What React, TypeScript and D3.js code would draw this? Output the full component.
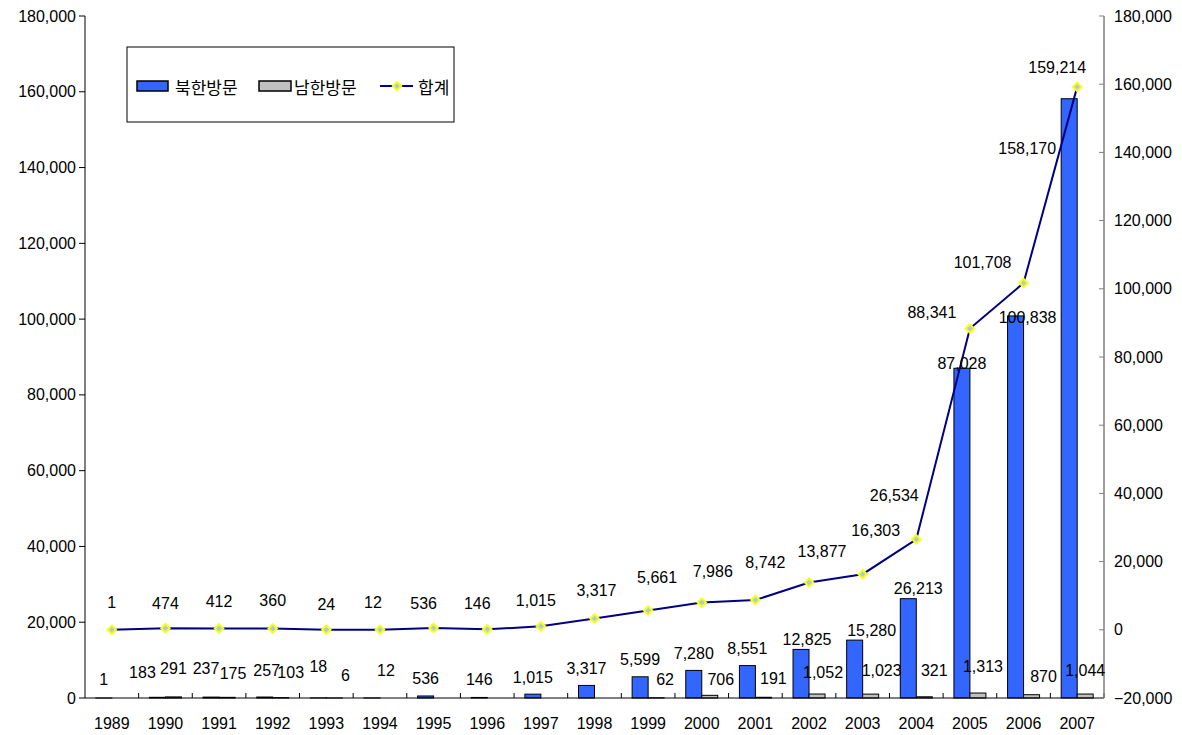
import React from "react";
import * as d3 from "d3";

const years = ["1989","1990","1991","1992","1993","1994","1995","1996","1997","1998","1999","2000","2001","2002","2003","2004","2005","2006","2007"];
const northVisits = [1,183,237,257,18,12,536,146,1015,3317,5599,7280,8551,12825,15280,26213,87028,100838,158170];
const southVisits = [0,291,175,103,6,0,0,0,0,0,62,706,191,1052,1023,321,1313,870,1044];
const totals = [1,474,412,360,24,12,536,146,1015,3317,5661,7986,8742,13877,16303,26534,88341,101708,159214];
const leftTicks = [0,20000,40000,60000,80000,100000,120000,140000,160000,180000];
const rightTicks = [-20000,0,20000,40000,60000,80000,100000,120000,140000,160000,180000];
const seriesNames = ["북한방문","남한방문","합계"];

// label nudges (dx, dy) relative to the mark anchor
const northNudge: [number, number][] = [[0,-18],[-15,-25],[-5,-29],[2,-27],[0,-31],[14,-27],[0,-17],[0,-18],[0,-17],[0,-17],[0,-17],[0,-17],[0,-17],[6,-10],[17,-10],[10,-10],[0,-5],[12,2],[-42,50]];
const southNudge: [number, number][] = [[0,-18],[0,-28],[6,-24],[10,-25],[11,-22],[0,-18],[0,-18],[0,-18],[0,-18],[0,-18],[9,-18],[11,-16],[10,-19],[6,-22],[11,-24],[10,-26],[5,-27],[12,-18],[0,-24]];
const totalNudge: [number, number][] = [[0,-27],[0,-25],[0,-27],[0,-28],[0,-25],[-7,-27],[-10,-24],[-10,-26],[-5,-26],[2,-28],[9,-33],[11,-31],[10,-37],[13,-31],[13,-44],[-22,-44],[-38,-16],[-41,-20],[-20,-19]];

const fmt = d3.format(",");
const FONT = "'Liberation Sans', Arial, sans-serif";
const KFONT = "'Noto Sans CJK KR', 'Liberation Sans', sans-serif";

export default function App() {
  const W = 1182, H = 735;
  const left = 85, right = 1104, top = 16, bottom = 698;
  const x = d3.scaleBand<string>().domain(years).range([left, right]).paddingInner(0).paddingOuter(0);
  const bw = x.bandwidth();
  const sub = d3.scaleBand<string>().domain(["n","s"]).range([bw/2 - 16, bw/2 + 16]).padding(0);
  const yL = d3.scaleLinear().domain([0,180000]).range([bottom, top]);
  const yR = d3.scaleLinear().domain([-20000,180000]).range([bottom, top]);
  const cx = (i: number) => (x(years[i]) as number) + bw / 2;
  const line = d3.line<number>().x((_, i) => cx(i)).y(d => yR(d));

  const diamond = (px: number, py: number, r = 4.2) => `M${px},${py - r}L${px + r},${py}L${px},${py + r}L${px - r},${py}Z`;

  return (
    <svg width={W} height={H} style={{ position: "absolute", left: 0, top: 0, background: "#fff" }} fontFamily={FONT}>
      <rect x={0} y={0} width={W} height={H} fill="#fff" />
      {/* bars */}
      {years.map((yr, i) => {
        const bx = x(yr) as number;
        const nx = bx + (sub("n") as number);
        const sx = bx + (sub("s") as number);
        return (
          <g key={yr}>
            <rect x={nx} y={yL(northVisits[i])} width={sub.bandwidth()} height={bottom - yL(northVisits[i])} fill="#3366FF" stroke="#000" strokeWidth={1} />
            <rect x={sx} y={yL(southVisits[i])} width={sub.bandwidth()} height={bottom - yL(southVisits[i])} fill="#C0C0C0" stroke="#000" strokeWidth={1} />
          </g>
        );
      })}
      {/* x axis */}
      <line x1={left} x2={right} y1={bottom} y2={bottom} stroke="#000" strokeWidth={1} />
      {years.map((yr) => (
        <line key={"xt" + yr} x1={(x(yr) as number) + bw} x2={(x(yr) as number) + bw} y1={bottom} y2={bottom - 5} stroke="#000" />
      ))}
      {years.map((yr, i) => (
        <text key={"xl" + yr} x={cx(i)} y={723} textAnchor="middle" dominantBaseline="central" fontSize={16}>{yr}</text>
      ))}
      {/* left axis */}
      <line x1={left} x2={left} y1={top} y2={bottom} stroke="#000" />
      {leftTicks.map(t => (
        <g key={"lt" + t}>
          <line x1={left - 6} x2={left} y1={yL(t)} y2={yL(t)} stroke="#000" />
          <text x={left - 9} y={yL(t)} textAnchor="end" dominantBaseline="central" fontSize={16}>{fmt(t)}</text>
        </g>
      ))}
      {/* right axis */}
      <line x1={right} x2={right} y1={top} y2={bottom} stroke="#808080" strokeWidth={1.5} />
      {rightTicks.map(t => (
        <g key={"rt" + t}>
          <line x1={right - 5} x2={right} y1={yR(t)} y2={yR(t)} stroke="#808080" />
          <text x={right + 10} y={yR(t)} textAnchor="start" dominantBaseline="central" fontSize={16}>{fmt(t)}</text>
        </g>
      ))}
      {/* total line */}
      <path d={line(totals) || ""} fill="none" stroke="#000080" strokeWidth={2} />
      {totals.map((v, i) => (
        <path key={"m" + i} d={diamond(cx(i), yR(v))} fill="#99CCFF" stroke="#FFFF00" strokeWidth={2} />
      ))}
      {/* labels */}
      {northVisits.map((v, i) => (
        <text key={"nl" + i} x={(x(years[i]) as number) + (sub("n") as number) + sub.bandwidth() / 2 + northNudge[i][0]} y={yL(v) + northNudge[i][1]} textAnchor="middle" dominantBaseline="central" fontSize={16}>{fmt(v)}</text>
      ))}
      {southVisits.map((v, i) => v > 0 ? (
        <text key={"sl" + i} x={(x(years[i]) as number) + (sub("s") as number) + sub.bandwidth() / 2 + southNudge[i][0]} y={yL(v) + southNudge[i][1]} textAnchor="middle" dominantBaseline="central" fontSize={16}>{fmt(v)}</text>
      ) : null)}
      {totals.map((v, i) => (
        <text key={"tl" + i} x={cx(i) + totalNudge[i][0]} y={yR(v) + totalNudge[i][1]} textAnchor="middle" dominantBaseline="central" fontSize={16}>{fmt(v)}</text>
      ))}
      {/* legend */}
      <g>
        <rect x={127} y={47} width={327} height={75} fill="#fff" stroke="#000" strokeWidth={1} />
        <rect x={137} y={81} width={31} height={10} fill="#3366FF" stroke="#000" strokeWidth={1.5} />
        <text x={175} y={86.5} dominantBaseline="central" fontSize={17} fontFamily={KFONT}>{seriesNames[0]}</text>
        <rect x={259} y={81} width={32} height={10} fill="#C0C0C0" stroke="#000" strokeWidth={1.5} />
        <text x={294} y={86.5} dominantBaseline="central" fontSize={17} fontFamily={KFONT}>{seriesNames[1]}</text>
        <line x1={380} x2={413} y1={86} y2={86} stroke="#000080" strokeWidth={2} />
        <path d={diamond(397, 86)} fill="#99CCFF" stroke="#FFFF00" strokeWidth={2} />
        <text x={418} y={86.5} dominantBaseline="central" fontSize={17} fontFamily={KFONT}>{seriesNames[2]}</text>
      </g>
    </svg>
  );
}
